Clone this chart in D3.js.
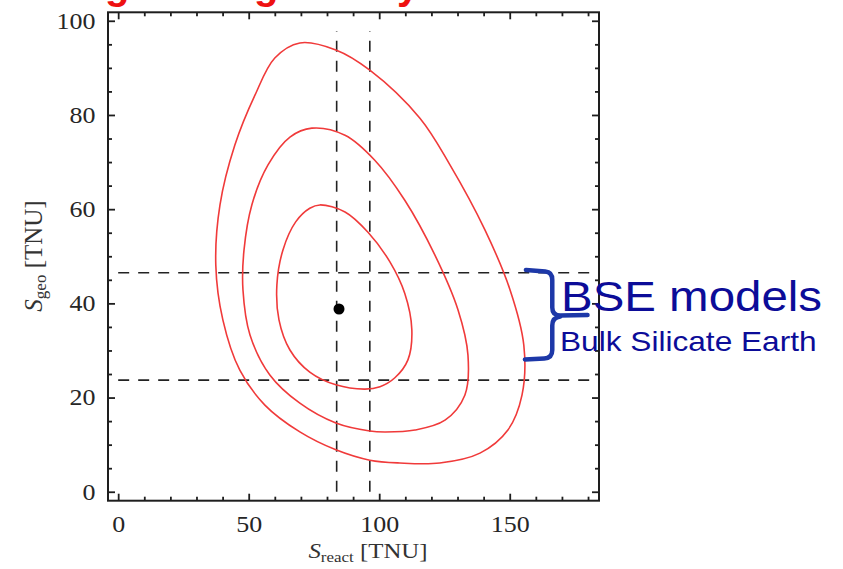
<!DOCTYPE html>
<html>
<head>
<meta charset="utf-8">
<script src="https://cdn.jsdelivr.net/npm/d3@7"></script>
<style>
  html, body { margin: 0; padding: 0; background: #fff; }
  svg { display: block; }
  .tick text { font-family: "Liberation Serif", "DejaVu Serif", serif; font-size: 23px; fill: #262626; }
</style>
</head>
<body>
<svg id="chart" width="843" height="569"></svg>
<script>
// Confidence contours in the (S_react, S_geo) plane, values in TNU
const outerContour = [
  [69.6, 95.3], [83.4, 93.8], [96.4, 89.5], [115.6, 79.3], [127.1, 69.4],
  [140.5, 55.6], [150.1, 42.9], [155.4, 31.1], [154.7, 20.5], [149.3, 13.1],
  [138.6, 8.2], [123.2, 6.1], [107.9, 6.1], [96.4, 6.7], [83.4, 8.9],
  [69.6, 12.7], [56.2, 18.4], [46.6, 25.8], [40.1, 36.5], [37.4, 48.1],
  [39.0, 60.9], [44.7, 73.6], [52.4, 84.2], [60.0, 92.1]
];
const middleContour = [
  [74.2, 77.2], [86.9, 75.7], [98.3, 70.4], [109.8, 61.9], [121.3, 50.3],
  [130.2, 38.6], [134.0, 29.0], [132.8, 20.5], [125.2, 15.2], [113.7, 13.1],
  [102.2, 12.7], [96.4, 12.9], [83.4, 14.6], [69.6, 18.8], [58.1, 24.8],
  [50.5, 33.3], [47.8, 42.9], [48.2, 51.3], [51.2, 60.9], [57.4, 69.4],
  [65.8, 75.3]
];
const innerContour = [
  [77.3, 60.9], [86.9, 59.4], [95.7, 55.1], [104.1, 48.8], [109.8, 42.1],
  [112.5, 34.4], [111.0, 28.0], [106.0, 24.2], [100.3, 22.3], [94.5, 21.8],
  [83.4, 22.7], [73.4, 25.4], [65.8, 30.1], [61.6, 36.5], [60.8, 43.9],
  [63.1, 51.3], [68.0, 57.3], [73.4, 60.2]
];
const bestFit = [84.6, 38.8];

// Reference bands: reactor expectation (vertical) and BSE geo range (horizontal)
const reactBand = [83.7, 96.4];
const geoBand = [23.7, 46.5];

// Axis ticks
const xMajorTicks = [0, 50, 100, 150];
const xMinorTicks = [10, 20, 30, 40, 60, 70, 80, 90, 110, 120, 130, 140, 160, 170, 180];
const yMajorTicks = [0, 20, 40, 60, 80, 100];
const yMinorTicks = [5, 10, 15, 25, 30, 35, 45, 50, 55, 65, 70, 75, 85, 90, 95];

// Brace marking the BSE range: x (arm, spine, tip) and y (top, middle, bottom)
const braceX = [156.2, 166.3, 179.8];
const braceY = [47.1, 37.4, 28.4];

const bandLabel = "BSE models";
const bandSubLabel = "Bulk Silicate Earth";

const svg = d3.select("#chart");
const x = d3.scaleLinear().domain([-3.9, 184.2]).range([108, 599]);
const y = d3.scaleLinear().domain([-1.9, 101.8]).range([500.7, 12.3]);
const stretch = 1.13;

// Title line above the frame (only its descenders show)
const title = svg.append("text")
  .attr("font-family", "Liberation Sans, Arial, sans-serif")
  .attr("font-weight", "bold")
  .attr("font-size", 40)
  .attr("fill", "#ee1111")
  .attr("y", -1);
title.append("tspan").attr("x", 105).text("g");
title.append("tspan").attr("x", 254).text("g");
title.append("tspan").attr("x", 397).text("y");

// Dashed reference lines
const dash = "11,9";
svg.append("g").selectAll("line.v").data(reactBand).join("line")
  .attr("x1", d => x(d)).attr("x2", d => x(d))
  .attr("y1", y(0)).attr("y2", y(97.8))
  .attr("stroke", "#222").attr("stroke-width", 1.6).attr("stroke-dasharray", dash);
svg.append("g").selectAll("line.h").data(geoBand).join("line")
  .attr("x1", x(0)).attr("x2", x(184.2))
  .attr("y1", d => y(d)).attr("y2", d => y(d))
  .attr("stroke", "#222").attr("stroke-width", 1.6).attr("stroke-dasharray", dash);

// Contours
const line = d3.line().x(d => x(d[0])).y(d => y(d[1])).curve(d3.curveCatmullRomClosed.alpha(0.5));
svg.append("g").selectAll("path").data([outerContour, middleContour, innerContour]).join("path")
  .attr("d", line)
  .attr("fill", "none")
  .attr("stroke", "#f03a3a")
  .attr("stroke-width", 1.6);

// Best fit point
svg.append("circle")
  .attr("cx", x(bestFit[0])).attr("cy", y(bestFit[1]))
  .attr("r", 5.5).attr("fill", "#000");

// Frame
svg.append("rect")
  .attr("x", x(-3.9)).attr("y", y(101.8))
  .attr("width", x(184.2) - x(-3.9)).attr("height", y(-1.9) - y(101.8))
  .attr("fill", "none").attr("stroke", "#1e1e1e").attr("stroke-width", 2);

function axisGroup(axis, tx, ty) {
  const g = svg.append("g").attr("transform", `translate(${tx},${ty})`).call(axis);
  g.select(".domain").remove();
  g.selectAll(".tick line").attr("stroke", "#1e1e1e").attr("stroke-width", 1.8);
  return g;
}

// Bottom axis
const gb = axisGroup(d3.axisBottom(x).tickValues(xMajorTicks).tickSizeInner(-7).tickSizeOuter(0).tickPadding(15), 0, y(-1.9));
gb.selectAll(".tick text").attr("transform", `scale(${stretch},1)`).attr("dy", "0.71em");
axisGroup(d3.axisBottom(x).tickValues(xMinorTicks).tickSize(-4).tickFormat(""), 0, y(-1.9));
// Top axis
axisGroup(d3.axisTop(x).tickValues(xMajorTicks).tickSize(-7).tickFormat(""), 0, y(101.8));
axisGroup(d3.axisTop(x).tickValues(xMinorTicks).tickSize(-4).tickFormat(""), 0, y(101.8));
// Left axis
const gl = axisGroup(d3.axisLeft(y).tickValues(yMajorTicks).tickSizeInner(-7).tickSizeOuter(0).tickPadding(11), x(-3.9), 0);
gl.selectAll(".tick text").attr("transform", `scale(${stretch},1)`);
axisGroup(d3.axisLeft(y).tickValues(yMinorTicks).tickSize(-4).tickFormat(""), x(-3.9), 0);
// Right axis
axisGroup(d3.axisRight(y).tickValues(yMajorTicks).tickSize(-7).tickFormat(""), x(184.2), 0);
axisGroup(d3.axisRight(y).tickValues(yMinorTicks).tickSize(-4).tickFormat(""), x(184.2), 0);

// Axis titles
const xTitle = svg.append("text")
  .attr("transform", `translate(368,558) scale(${stretch},1)`)
  .attr("text-anchor", "middle")
  .attr("font-family", "Liberation Serif, serif")
  .attr("font-size", 22).attr("fill", "#333");
xTitle.append("tspan").attr("font-style", "italic").text("S");
xTitle.append("tspan").attr("font-size", 15).attr("dy", 4).text("react");
xTitle.append("tspan").attr("dy", -4).text(" [TNU]");

const yTitle = svg.append("text")
  .attr("transform", "translate(42,256) rotate(-90)")
  .attr("text-anchor", "middle")
  .attr("font-family", "Liberation Serif, serif")
  .attr("font-size", 25).attr("fill", "#333");
yTitle.append("tspan").attr("font-style", "italic").text("S");
yTitle.append("tspan").attr("font-size", 17).attr("dy", 4).text("geo");
yTitle.append("tspan").attr("dy", -4).text(" [TNU]");

// Brace around the BSE range
const p = d3.path();
const [bx0, bx1, bx2] = braceX.map(x);
const [by0, by1, by2] = braceY.map(y);
p.moveTo(bx0, by0);
p.lineTo(bx1 - 7, by0 + 1.5);
p.quadraticCurveTo(bx1, by0 + 2, bx1, by0 + 10);
p.lineTo(bx1, by1 - 8);
p.quadraticCurveTo(bx1, by1, bx1 + 8, by1);
p.lineTo(bx2, by1 - 0.5);
p.moveTo(bx1 + 8, by1 + 1);
p.quadraticCurveTo(bx1, by1 + 2, bx1, by1 + 10);
p.lineTo(bx1, by2 - 8);
p.quadraticCurveTo(bx1, by2, bx1 - 8, by2 + 0.5);
p.lineTo(bx0 - 1, by2 + 1.5);
svg.append("path").attr("d", p.toString())
  .attr("fill", "none").attr("stroke", "#1d38a8").attr("stroke-width", 4.5)
  .attr("stroke-linecap", "round").attr("stroke-linejoin", "round");

// Brace labels
svg.append("text")
  .attr("transform", `translate(561,311) scale(${stretch},1)`)
  .attr("font-family", "Liberation Sans, Arial, sans-serif")
  .attr("font-size", 42).attr("fill", "#0c0c98")
  .text(bandLabel);
svg.append("text")
  .attr("transform", `translate(560,351) scale(${stretch},1)`)
  .attr("font-family", "Liberation Sans, Arial, sans-serif")
  .attr("font-size", 28).attr("fill", "#0c0c98")
  .text(bandSubLabel);
</script>
</body>
</html>
